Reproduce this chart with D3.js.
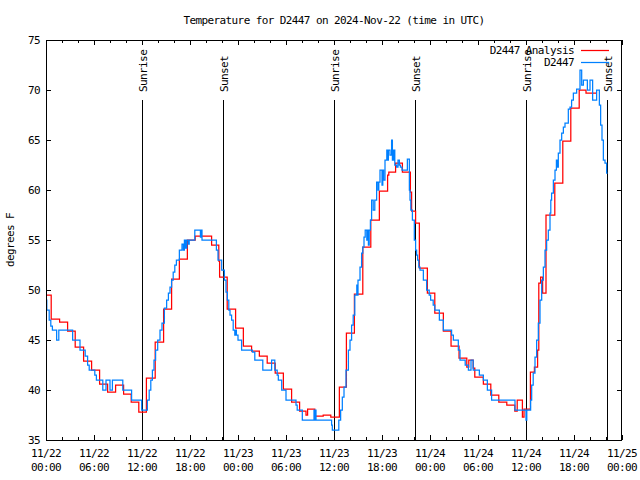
<!DOCTYPE html>
<html><head><meta charset="utf-8">
<script src="https://cdn.jsdelivr.net/npm/d3@7"></script>
<style>
body{margin:0;background:#fff}
text{font-family:'DejaVu Sans Mono',monospace;font-size:11px;letter-spacing:-0.6px;fill:#000}
</style>
</head><body><svg id="c" width="640" height="480"></svg>
<script>
// ---- data (hours after 2024-11-22 00:00 UTC) ----
const titleText = "Temperature for D2447 on 2024-Nov-22 (time in UTC)";
const yLabelText = "degrees F";
const seriesNames = ["D2447 Analysis", "D2447"];
const seriesColors = ["#ff0000", "#0080ff"];

const analysisHours = [0,0.65,1.7,2.7,3.65,4.7,5.7,6.7,7.7,8.7,9.7,10.65,11.6,12.55,13.65,14.7,15.7,16.67,17.67,18.65,20.7,21.6,21.7,22.65,23.7,24.67,25.7,26.67,27.65,28.65,29.67,30.7,31.7,32.5,32.7,33.6,34.65,35.6,36.67,37.55,38.55,39.6,40.6,41.67,42.7,42.85,43.7,44.55,45.55,45.7,46.2,46.67,47.67,48.6,49.67,50.63,51.63,52.6,52.85,53.4,53.6,54.67,55.6,56.6,57.6,58.6,58.9,59.55,59.75,60.55,61.05,61.45,61.6,61.83,62.08,62.5,63.6,64.6,65.6,66.65,67.5];
const analysisTemps = [49.5,47.1,46.8,45.9,44.3,42.9,42.0,40.6,39.8,40.5,39.6,38.8,37.8,41.2,44.8,48.1,51.1,53.1,55.0,55.4,54.5,52.9,51.3,48.1,46.2,44.4,43.9,43.4,42.7,41.7,40.1,38.8,37.9,37.5,38.1,37.4,37.5,37.3,40.3,45.7,49.6,54.3,57.0,59.9,61.5,61.8,62.7,61.8,59.8,57.9,56.7,52.2,49.7,47.7,45.9,44.4,43.2,42.3,43.0,42.2,41.3,40.6,39.5,38.8,38.5,37.9,39.0,37.3,38.1,41.8,42.3,44.0,50.7,51.3,49.7,57.5,60.7,64.9,68.2,70.0,69.7];
const analysisEnd = 68.8;

const obsHours = [0,0.1,0.4,0.6,0.8,1.33,1.6,3.33,4.25,4.9,5.2,5.4,6.1,6.3,7.1,7.5,8.0,8.3,9.6,10.7,11.96,12.67,12.9,13.1,13.3,13.5,13.7,13.96,14.25,14.5,14.8,15.08,15.3,15.5,15.7,15.9,16.1,16.3,16.67,17.0,17.17,17.3,17.45,17.6,17.8,17.9,18.6,19.3,19.4,19.5,21.3,21.5,21.96,22.3,22.5,22.67,22.85,23.0,23.2,23.4,23.6,23.7,23.8,24.0,24.45,25.8,26.1,27.1,28.2,28.6,28.9,29.04,29.46,30.0,31.25,31.4,32.04,33.5,33.6,33.7,33.75,35.7,35.79,36.6,36.83,37.04,37.25,37.5,37.8,38.0,38.2,38.4,38.6,38.85,38.95,39.0,39.25,39.45,39.6,39.75,39.9,40.1,40.2,40.3,40.4,40.55,40.7,40.9,41.1,41.33,41.5,41.6,41.75,42.0,42.1,42.2,42.375,42.6,42.7,42.8,43.0,43.2,43.3,43.45,43.6,43.83,44.0,44.17,44.3,44.5,45.17,45.42,45.5,45.6,45.8,46.04,46.2,46.33,46.45,46.6,46.75,47.17,47.58,47.9,48.08,48.4,48.6,49.17,49.67,50.7,50.92,51.54,51.75,52.4,52.8,53.125,53.4,54.17,54.67,55.17,55.7,58.625,59.875,60.0,60.1,60.58,60.71,60.9,61.125,61.33,61.54,61.75,61.96,62.17,62.375,62.58,62.79,63.0,63.1,63.2,63.42,63.625,63.8,63.9,64.04,64.25,64.46,64.67,64.875,65.29,65.5,65.7,65.92,66.33,66.75,66.96,67.17,67.67,68.0,68.33,68.83,69.17,69.33,69.5,69.67,69.875,70.08];
const obsTemps = [49.0,48.0,47.0,46.4,46.0,45.0,46.0,45.0,44.0,43.4,42.5,42.0,41.5,41.0,40.0,41.0,40.0,41.0,40.0,39.0,38.0,39.0,40.0,41.0,42.0,43.0,44.0,45.0,46.0,46.7,48.2,49.0,49.7,50.3,51.0,51.8,52.5,53.0,54.0,54.6,54.0,55.0,54.2,55.0,54.6,55.0,56.0,55.3,56.0,55.0,54.0,53.0,52.0,51.0,49.8,49.0,48.0,47.5,47.0,46.0,45.5,46.0,45.5,45.0,44.0,43.8,43.0,42.0,43.0,42.0,41.5,41.0,40.0,39.0,38.5,38.0,37.0,38.0,37.0,38.0,37.0,36.5,36.0,37.0,38.0,39.3,40.3,42.0,44.0,45.0,46.5,47.5,49.5,50.5,49.5,51.0,52.3,53.7,54.3,55.3,56.0,55.0,56.0,54.5,56.0,57.0,59.0,58.0,59.0,60.8,60.0,60.8,62.0,60.5,62.0,61.0,63.0,64.0,63.0,64.0,63.5,65.0,63.0,64.0,62.5,62.3,63.0,62.5,62.3,62.0,63.1,60.0,59.0,58.0,57.0,55.0,54.0,53.5,53.0,52.3,52.0,51.0,50.0,49.5,49.0,48.5,48.0,47.0,46.0,45.5,45.0,44.0,43.0,42.5,42.0,43.0,42.0,41.5,41.0,40.0,39.0,38.0,38.0,37.0,38.0,39.0,40.5,41.7,43.3,45.0,46.7,49.0,51.0,52.3,54.0,55.0,56.0,57.7,59.0,59.7,61.0,62.0,63.0,62.3,63.7,65.0,65.7,66.3,66.7,68.1,68.3,69.0,69.7,70.1,72.0,70.5,71.0,70.0,71.0,69.0,70.0,68.5,66.5,65.0,63.0,62.7,61.7];
const obsEnd = 70.2;

const sunHours = [12.04, 22.17, 36.04, 46.17, 60.04, 70.17];
const sunLabels = ["Sunrise", "Sunset", "Sunrise", "Sunset", "Sunrise", "Sunset"];
const yTicks = [35, 40, 45, 50, 55, 60, 65, 70, 75];
const xStartUTC = Date.UTC(2024, 10, 22, 0, 0);
const xEndUTC = Date.UTC(2024, 10, 25, 0, 0);

// ---- drawing ----
const svg = d3.select("#c");
svg.append("rect").attr("width", 640).attr("height", 480).attr("fill", "#fff");
const L = 46, R = 622, T = 40, B = 440;
const toDate = h => new Date(xStartUTC + h * 3600e3);
const x = d3.scaleUtc().domain([new Date(xStartUTC), new Date(xEndUTC)]).range([L, R]);
const y = d3.scaleLinear().domain([35, 75]).range([B, T]);

// x ticks
const major = d3.utcHour.every(6).range(new Date(xStartUTC), new Date(xEndUTC + 1));
const minor = d3.utcHour.every(2).range(new Date(xStartUTC), new Date(xEndUTC + 1));
const g = svg.append("g").attr("stroke", "#000").attr("stroke-width", 1).attr("shape-rendering", "crispEdges");
minor.forEach(d => {
  const isMajor = d.getUTCHours() % 6 === 0;
  const len = isMajor ? 5 : 3;
  const xx = Math.round(x(d)) + 0.5;
  g.append("line").attr("x1", xx).attr("x2", xx).attr("y1", B).attr("y2", B - len);
  g.append("line").attr("x1", xx).attr("x2", xx).attr("y1", T).attr("y2", T + len);
});
yTicks.forEach(v => {
  const yy = Math.round(y(v)) + 0.5;
  g.append("line").attr("x1", L).attr("x2", L + 5).attr("y1", yy).attr("y2", yy);
  g.append("line").attr("x1", R).attr("x2", R - 5).attr("y1", yy).attr("y2", yy);
});
const fDay = d3.utcFormat("%m/%d"), fTime = d3.utcFormat("%H:%M");
major.forEach(d => {
  const t = svg.append("text").attr("text-anchor", "middle").attr("x", x(d));
  t.append("tspan").attr("x", x(d)).attr("y", 457).text(fDay(d));
  t.append("tspan").attr("x", x(d)).attr("y", 471).text(fTime(d));
});
yTicks.forEach(v => {
  svg.append("text").attr("text-anchor", "end").attr("x", 40).attr("y", y(v) + 4).text(v);
});

// sunrise / sunset
sunHours.forEach((h, i) => {
  const xx = Math.round(x(toDate(h))) + 0.5;
  svg.append("line").attr("x1", xx).attr("x2", xx).attr("y1", 100).attr("y2", B)
    .attr("stroke", "#000").attr("stroke-width", 1).attr("shape-rendering", "crispEdges");
  svg.append("text").attr("transform", `translate(${xx + 4},92) rotate(-90)`).text(sunLabels[i]);
});

// series
const line = d3.line().x(d => x(toDate(d[0]))).y(d => y(d[1])).curve(d3.curveStepAfter);
function pts(hs, vs, end) {
  const p = hs.map((h, i) => [h, vs[i]]);
  p.push([end, vs[vs.length - 1]]);
  return p;
}
svg.append("clipPath").attr("id", "pc").append("rect").attr("x", L).attr("y", T).attr("width", R - L).attr("height", B - T);
svg.append("path").attr("d", line(pts(analysisHours, analysisTemps, analysisEnd)))
  .attr("fill", "none").attr("stroke", seriesColors[0]).attr("stroke-width", 1.25).attr("clip-path", "url(#pc)");
svg.append("path").attr("d", line(pts(obsHours, obsTemps, obsEnd)))
  .attr("fill", "none").attr("stroke", seriesColors[1]).attr("stroke-width", 1.25).attr("clip-path", "url(#pc)");

// border
svg.append("rect").attr("x", L + 0.5).attr("y", T + 0.5).attr("width", R - L - 1).attr("height", B - T)
  .attr("fill", "none").attr("stroke", "#000").attr("stroke-width", 1).attr("shape-rendering", "crispEdges");

// legend
seriesNames.forEach((n, i) => {
  const yy = 50 + i * 12;
  svg.append("text").attr("text-anchor", "end").attr("x", 574).attr("y", yy + 4).text(n);
  svg.append("line").attr("x1", 581).attr("x2", 609).attr("y1", yy + 0.5).attr("y2", yy + 0.5)
    .attr("stroke", seriesColors[i]).attr("stroke-width", 1.25);
});

// title and y label
svg.append("text").attr("text-anchor", "middle").attr("x", 334).attr("y", 24).text(titleText);
svg.append("text").attr("text-anchor", "middle").attr("transform", "translate(14,240) rotate(-90)").text(yLabelText);
</script>
</body></html>
